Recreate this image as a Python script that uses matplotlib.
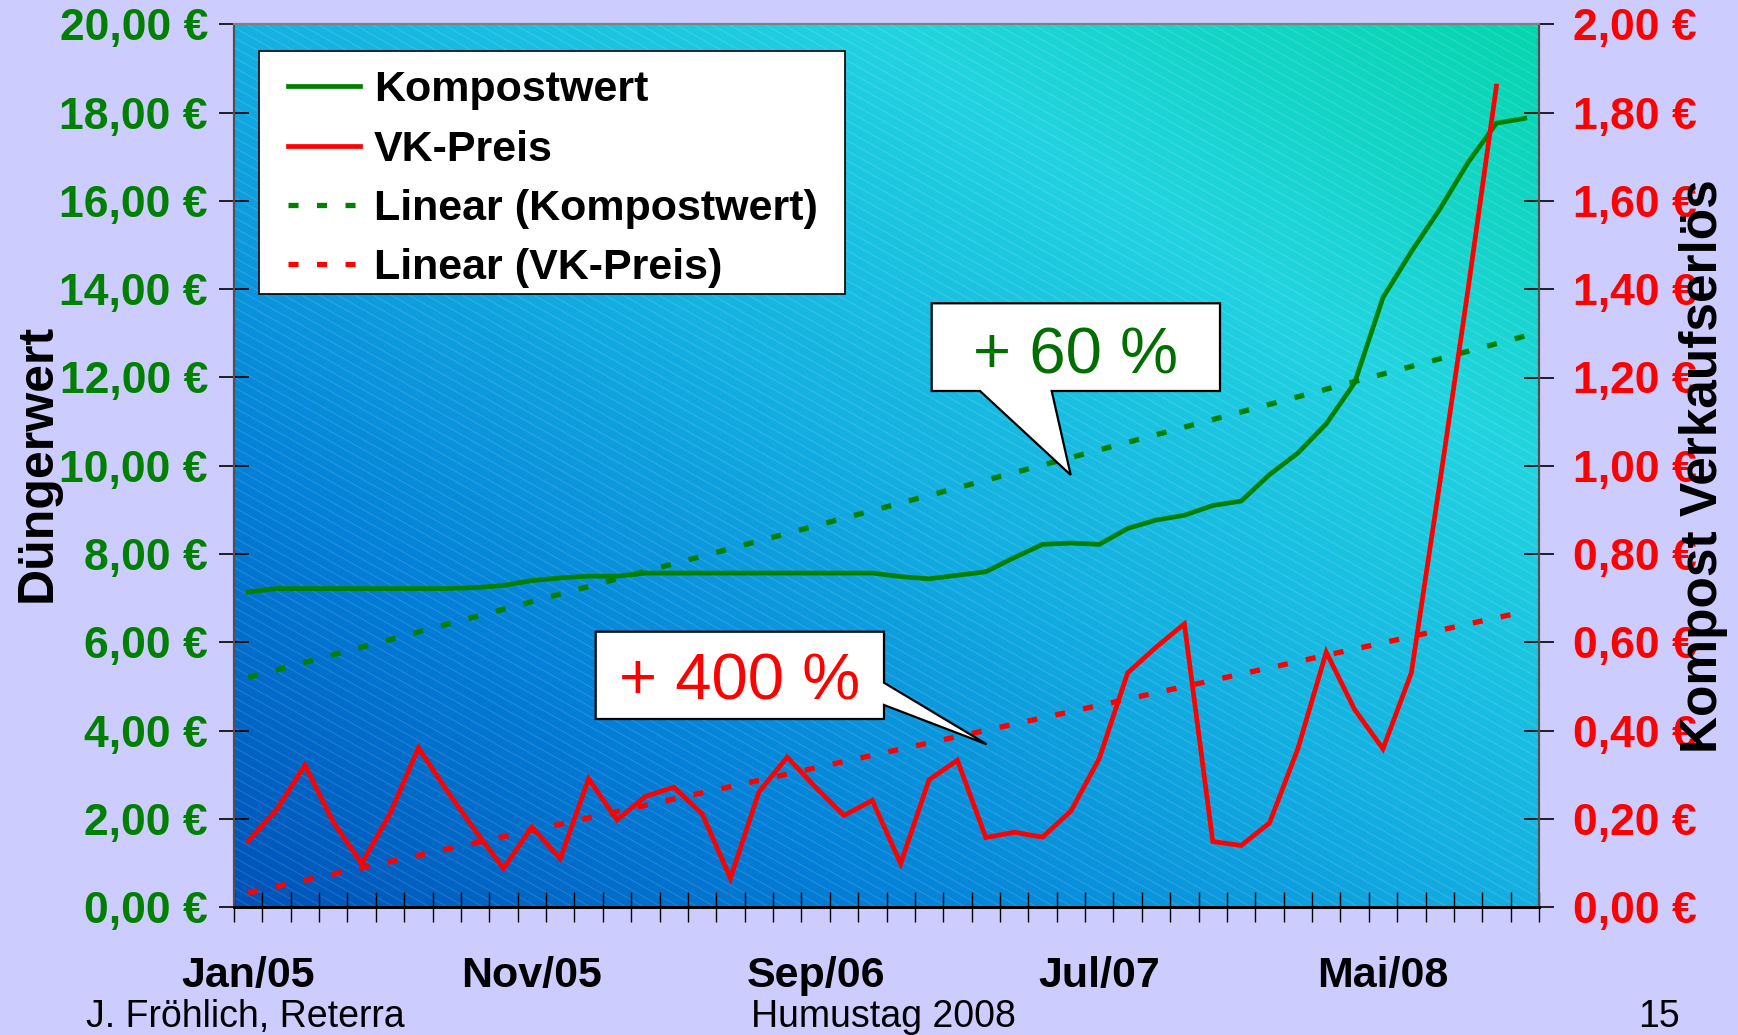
import numpy as np
import matplotlib
matplotlib.use("Agg")
import matplotlib.pyplot as plt
from matplotlib.colors import LinearSegmentedColormap
from matplotlib.collections import LineCollection
from matplotlib.patches import Polygon, Rectangle
from matplotlib.lines import Line2D

plt.rcParams['font.family'] = ['Liberation Sans', 'DejaVu Sans']

# Monthly values, Jan/05 .. Oct/08
kompostwert = [7.14, 7.22, 7.22, 7.22, 7.22, 7.22, 7.22, 7.22, 7.24, 7.29,
               7.40, 7.46, 7.50, 7.50, 7.57, 7.57, 7.57, 7.57, 7.57, 7.57,
               7.57, 7.57, 7.57, 7.49, 7.44, 7.52, 7.60, 7.92, 8.22, 8.25,
               8.22, 8.58, 8.77, 8.88, 9.10, 9.20, 9.80, 10.29, 10.95, 11.88,
               13.81, 14.85, 15.81, 16.87, 17.76, 17.87]
vk_preis = [0.150, 0.221, 0.322, 0.193, 0.099, 0.212, 0.361, 0.265, 0.174, 0.088,
            0.182, 0.110, 0.291, 0.198, 0.251, 0.272, 0.212, 0.066, 0.261, 0.340,
            0.272, 0.208, 0.242, 0.099, 0.289, 0.333, 0.158, 0.170, 0.159, 0.218,
            0.337, 0.531, 0.589, 0.642, 0.149, 0.140, 0.191, 0.359, 0.578, 0.448,
            0.359, 0.531, 0.960, 1.400, 1.860]
tick_positions = [0, 10, 20, 30, 40]
tick_labels = ["Jan/05", "Nov/05", "Sep/06", "Jul/07", "Mai/08"]
left_ticks = [0, 2, 4, 6, 8, 10, 12, 14, 16, 18, 20]
right_ticks = [0.0, 0.2, 0.4, 0.6, 0.8, 1.0, 1.2, 1.4, 1.6, 1.8, 2.0]

GREEN = '#008000'
RED = '#FF0000'

W, H = 1738, 1035
fig = plt.figure(figsize=(W / 100, H / 100), dpi=100, facecolor='#CCCCFF')
AX_L, AX_R, AX_T, AX_B = 234, 1539, 24.3, 907.3
ax = fig.add_axes([AX_L / W, 1 - AX_B / H, (AX_R - AX_L) / W, (AX_B - AX_T) / H])


def axfrac(x, y):
    return ((x - AX_L) / (AX_R - AX_L), (AX_B - y) / (AX_B - AX_T))


# diagonal gradient background
cmap = LinearSegmentedColormap.from_list(
    'bg', [(0.0, '#0052B8'), (0.25, '#0480D8'), (0.5, '#14B0E2'),
           (0.75, '#22D4E0'), (1.0, '#06D6AE')])
u = np.linspace(0, 1, 400)
v = np.linspace(0, 1, 300)
U, V = np.meshgrid(u, v)
ax.imshow((U + V) / 2, cmap=cmap, extent=(0, 1, 0, 1), origin='lower',
          transform=ax.transAxes, aspect='auto', zorder=0, interpolation='bilinear')

# faint diagonal texture
pw, ph = AX_R - AX_L, AX_B - AX_T
segs = []
for y0 in np.arange(0, ph + 0.56 * pw, 10):
    segs.append([(0, y0 / ph), (1, (y0 - 0.56 * pw) / ph)])
lc = LineCollection(segs, colors=[(1, 1, 1, 0.13)], linewidths=0.8,
                    transform=ax.transAxes, zorder=0.5)
ax.add_collection(lc)

x_g = np.arange(len(kompostwert))
x_r = np.arange(len(vk_preis))
x_all = np.arange(len(kompostwert))

ax.plot(x_g, kompostwert, color=GREEN, lw=3.4, zorder=3, solid_joinstyle='miter')
cg = np.polyfit(x_g, kompostwert, 1)
ax.plot(x_all, np.polyval(cg, x_all), color=GREEN, lw=3.8, ls=(0, (1.9, 3.5)), zorder=2)

ax.set_xlim(-0.5, 45.5)
ax.set_ylim(0, 20)

ax2 = ax.twinx()
ax2.plot(x_r, vk_preis, color=RED, lw=3.4, zorder=3, solid_joinstyle='miter')
cr = np.polyfit(x_r, vk_preis, 1)
ax2.plot(x_all, np.polyval(cr, x_all), color=RED, lw=3.8, ls=(0, (1.9, 3.5)), zorder=2)
ax2.set_ylim(0, 2)


def euro(val):
    return f"{val:.2f} €".replace('.', ',')


ax.set_yticks(left_ticks, [euro(t) for t in left_ticks])
ax.tick_params(axis='y', direction='inout', length=21.6, width=1.2, pad=8,
               labelsize=32, labelcolor=GREEN, color='black')
for t in ax.get_yticklabels():
    t.set_fontweight('bold')

ax2.set_yticks(right_ticks, [euro(t) for t in right_ticks])
ax2.tick_params(axis='y', direction='inout', length=21.6, width=1.2, pad=14,
                labelsize=32, labelcolor=RED, color='black')
for t in ax2.get_yticklabels():
    t.set_fontweight('bold')

ax.set_xticks(tick_positions, tick_labels)
ax.set_xticks(np.arange(-0.5, 46, 1), minor=True)
ax.tick_params(axis='x', which='major', length=0, pad=35, labelsize=31)
ax.tick_params(axis='x', which='minor', direction='inout', length=21.6, width=1.0, color='black')
for t in ax.get_xticklabels():
    t.set_fontweight('bold')

for a in (ax, ax2):
    for s in a.spines.values():
        s.set_color('#505050')
        s.set_linewidth(1.5)
    a.spines['bottom'].set_color('black')
    a.spines['bottom'].set_linewidth(2)
    a.spines['top'].set_color('#808080')

# axis titles
fig.text(0.0217, 0.5528, "Düngerwert", rotation=90, ha='center', va='center',
         fontsize=36, fontweight='bold', color='black')
fig.text(0.9804, 0.5501, "Kompost Verkaufserlös", rotation=90, ha='center', va='center',
         fontsize=37, fontweight='bold', color='black', zorder=5)

# legend: white box plus entries
bx0, by0 = axfrac(259.4, 293.8)
bx1, by1 = axfrac(844.8, 51)
ax2.add_patch(Rectangle((bx0, by0), bx1 - bx0, by1 - by0, transform=ax.transAxes,
                        facecolor='white', edgecolor='black', lw=1.2, zorder=19))
handles = [Line2D([], [], color=GREEN, lw=3.4),
           Line2D([], [], color=RED, lw=3.4),
           Line2D([], [], color=GREEN, lw=3.8, ls=(0, (1.9, 3.5))),
           Line2D([], [], color=RED, lw=3.8, ls=(0, (1.9, 3.5)))]
labels = ["Kompostwert", "VK-Preis", "Linear (Kompostwert)", "Linear (VK-Preis)"]
lx, ly = axfrac(268.4, 51)
leg = ax2.legend(handles, labels, loc='upper left', bbox_to_anchor=(lx, ly),
                 bbox_transform=ax.transAxes, borderaxespad=0, frameon=False,
                 prop=dict(weight='bold', size=31),
                 handlelength=1.67, handletextpad=0.33, labelspacing=0.45, borderpad=0.45)
leg.set_zorder(20)


# speech-bubble annotations
def bubble(points, text, tx, ty, color):
    pts = [axfrac(px, py) for px, py in points]
    poly = Polygon(pts, closed=True, facecolor='white', edgecolor='black',
                   lw=1.6, transform=ax.transAxes, zorder=15)
    ax2.add_patch(poly)
    ux, uy = axfrac(tx, ty)
    ax2.text(ux, uy, text, transform=ax.transAxes, ha='center', va='center',
             fontsize=47, color=color, zorder=16)


bubble([(931.7, 303.3), (1220, 303.3), (1220, 391), (1051.7, 391),
        (1070.7, 475), (980, 391), (931.7, 391)], "+ 60 %", 1076, 357, '#006E00')
bubble([(595.7, 631.7), (884, 631.7), (884, 682.7), (986.7, 744.3),
        (884, 705), (884, 719), (595.7, 719)], "+ 400 %", 739.5, 683, RED)

# footer
fig.text(86.5 / W, (H - 1026.7) / H, "J. Fröhlich, Reterra", ha='left', va='baseline',
         fontsize=27, color='black')
fig.text(883.6 / W, (H - 1026.7) / H, "Humustag 2008", ha='center', va='baseline',
         fontsize=27, color='black')
fig.text(1680 / W, (H - 1026.7) / H, "15", ha='right', va='baseline',
         fontsize=27, color='black')

fig.savefig("out.png", dpi=100, facecolor=fig.get_facecolor())
